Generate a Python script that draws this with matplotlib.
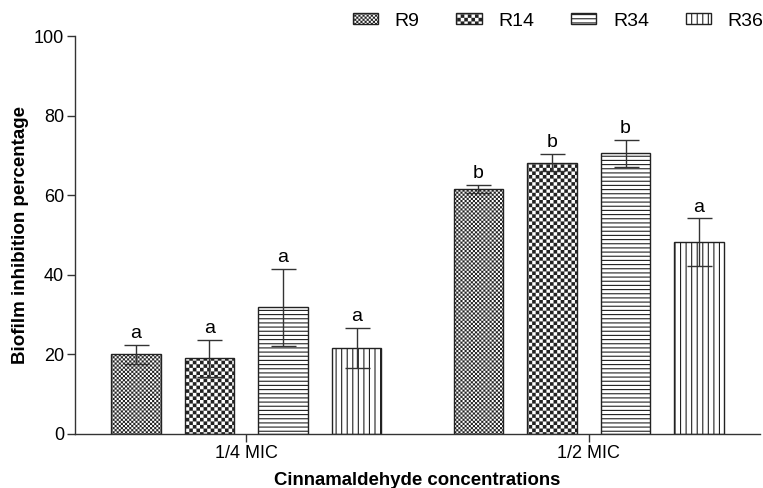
import numpy as np
import matplotlib
matplotlib.use('Agg')
import matplotlib.pyplot as plt
import matplotlib.hatch as mhatch
from matplotlib.path import Path

# data
groups = ['1/4 MIC', '1/2 MIC']
strains = ['R9', 'R14', 'R34', 'R36']
r9 = [20.0, 61.6]
r14 = [19.0, 68.2]
r34 = [31.8, 70.5]
r36 = [21.6, 48.2]
r9_err = [2.3, 1.0]
r14_err = [4.7, 2.1]
r34_err = [9.7, 3.4]
r36_err = [5.0, 6.0]
r9_sig = ['a', 'b']
r14_sig = ['a', 'b']
r34_sig = ['a', 'b']
r36_sig = ['a', 'a']


# checkerboard hatch, each 'o' adds 4 squares per hatch unit
class CheckerHatch(mhatch.HatchPatternBase):
    def __init__(self, hatch, density):
        self.n = hatch.count('o') * 4
        self.num_vertices = (self.n * self.n // 2) * 5

    def set_vertices_and_codes(self, vertices, codes):
        s = 1.0 / self.n
        k = 0
        for i in range(self.n):
            for j in range(self.n):
                if (i + j) % 2 == 0:
                    x0, y0 = i * s, j * s
                    vertices[k:k + 5] = [(x0, y0), (x0 + s, y0), (x0 + s, y0 + s),
                                         (x0, y0 + s), (x0, y0)]
                    codes[k] = Path.MOVETO
                    codes[k + 1:k + 4] = Path.LINETO
                    codes[k + 4] = Path.CLOSEPOLY
                    k += 5


mhatch._hatch_types[:] = [t for t in mhatch._hatch_types
                          if t is not mhatch.SmallCircles] + [CheckerHatch]

plt.rcParams['font.family'] = ['Liberation Sans', 'DejaVu Sans']
plt.rcParams['hatch.linewidth'] = 0.8

fig = plt.figure(figsize=(7.63, 4.88), dpi=100)
ax = fig.add_axes([75 / 763, 54 / 488, 685 / 763, 398 / 488])

values = [r9, r14, r34, r36]
errors = [r9_err, r14_err, r34_err, r36_err]
sigs = [r9_sig, r14_sig, r34_sig, r36_sig]
hatches = ['o' * 12, 'o' * 7, '----', '|||']
hatch_lw = [0.05, 0.05, 0.8, 0.8]

x = np.arange(len(groups))
pitch = 0.2147
width = 0.144
for i, name in enumerate(strains):
    pos = x + (i - 1.5) * pitch
    bars = ax.bar(pos, values[i], width, color='white', edgecolor='#222222',
                  linewidth=1.0, hatch=hatches[i], label=name, zorder=2)
    for b in bars:
        if hasattr(b, 'set_hatch_linewidth'):
            b.set_hatch_linewidth(hatch_lw[i])
    ax.errorbar(pos, values[i], yerr=errors[i], fmt='none', ecolor='#333333',
                elinewidth=1.0, capsize=9, capthick=1.0, zorder=3)
    for p, v, e, s in zip(pos, values[i], errors[i], sigs[i]):
        ax.text(p, v + e + 1.7, s, ha='center', va='baseline', fontsize=14)

ax.set_xlim(-0.5, 1.5)
ax.set_ylim(0, 100)
ax.set_yticks([0, 20, 40, 60, 80, 100])
ax.set_xticks(x)
ax.set_xticklabels(groups)
ax.tick_params(labelsize=13, length=6, width=1.0, color='#333333', pad=2)
for side in ['top', 'right']:
    ax.spines[side].set_visible(False)
for side in ['left', 'bottom']:
    ax.spines[side].set_color('#333333')
    ax.spines[side].set_linewidth(1.0)

ax.set_ylabel('Biofilm inhibition percentage', fontsize=13.5, fontweight='bold', labelpad=3)
ax.set_xlabel('Cinnamaldehyde concentrations', fontsize=13.4, fontweight='bold', labelpad=7)

leg = ax.legend(loc='upper right', bbox_to_anchor=(1.016, 0.998),
                bbox_transform=fig.transFigure, ncol=4, frameon=False,
                fontsize=14, handlelength=1.3, handleheight=0.5,
                handletextpad=0.85, columnspacing=1.9, borderpad=0.1)
for h, lw in zip(leg.legend_handles, hatch_lw):
    if hasattr(h, 'set_hatch_linewidth'):
        h.set_hatch_linewidth(lw)

fig.savefig('out.png', dpi=100)
